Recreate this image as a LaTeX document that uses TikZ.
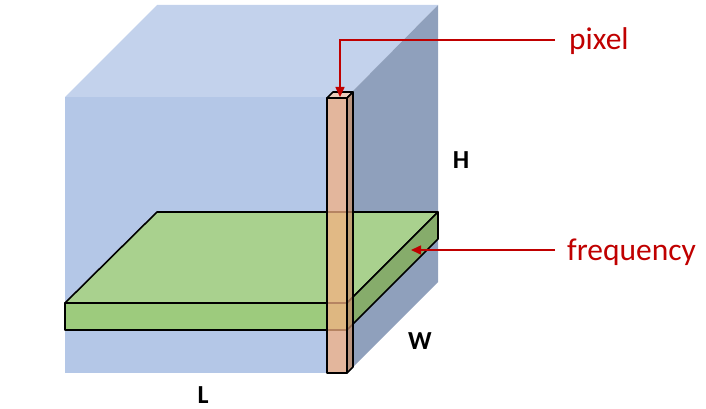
\documentclass[tikz,border=0pt]{standalone}
\usepackage{fontspec}
\setmainfont{Carlito}
\usetikzlibrary{arrows.meta}
\definecolor{cubefront}{HTML}{B4C7E7}
\definecolor{cubetop}{HTML}{C3D2EC}
\definecolor{cubeside}{HTML}{8FA0BC}
\definecolor{slabtop}{HTML}{A9D18E}
\definecolor{slabfront}{HTML}{9DCB7D}
\definecolor{slabside}{HTML}{86AC6B}
\definecolor{coltop}{HTML}{F8CBAD}
\definecolor{colfront}{HTML}{F4B183}
\definecolor{colside}{HTML}{C8906A}
\definecolor{darkred}{HTML}{C00000}
\tikzset{
  edge/.style={draw=black, line width=1.6pt, line join=round},
  colface/.style={edge, fill opacity=0.75},
  redarrow/.style={draw=darkred, line width=1.6pt, -{Triangle[length=10pt,width=9pt]}},
  lbl/.style={text=darkred, font=\fontsize{31.5}{31.5}\selectfont, inner sep=0pt, anchor=base west},
  dim/.style={font=\fontsize{26}{26}\selectfont\bfseries, inner sep=0pt}
}
\begin{document}
\begin{tikzpicture}[x=1pt,y=-1pt]
\useasboundingbox (0,0) rectangle (706,409);
% cube
\fill[cubetop] (65,97) -- (157,5) -- (438,5) -- (347,97) -- cycle;
\fill[cubeside] (347,97) -- (438,5) -- (438,282) -- (347,373) -- cycle;
\fill[cubefront] (65,97) rectangle (347,373);
% slab
\path[edge, fill=slabtop] (65,303) -- (157,212) -- (438,212) -- (347,303) -- cycle;
\path[edge, fill=slabside] (347,303) -- (438,212) -- (438,239) -- (347,330) -- cycle;
\path[edge, fill=slabfront] (65,303) rectangle (347,330);
% pixel column
\path[colface, fill=colfront] (327,98) rectangle (347,373);
\path[colface, fill=coltop] (327,98) -- (333,92) -- (353,92) -- (347,98) -- cycle;
\path[colface, fill=colside] (347,98) -- (353,92) -- (353,367) -- (347,373) -- cycle;
% labels
\node[lbl] (pixlbl) at (569,50) {pixel};
\node[lbl] (freqlbl) at (567,260) {frequency};
\node[dim] (hlbl) at (461,160) {H};
\node[dim] (wlbl) at (420,341) {W};
\node[dim] (llbl) at (203,395.5) {L};
% arrows
\coordinate (pstart) at (555,40);
\coordinate (ptip) at (340,97);
\coordinate (fstart) at (555,250);
\coordinate (ftip) at (411,250);
\draw[redarrow] (pstart) -| (ptip);
\draw[redarrow] (fstart) -- (ftip);
\end{tikzpicture}
\end{document}
